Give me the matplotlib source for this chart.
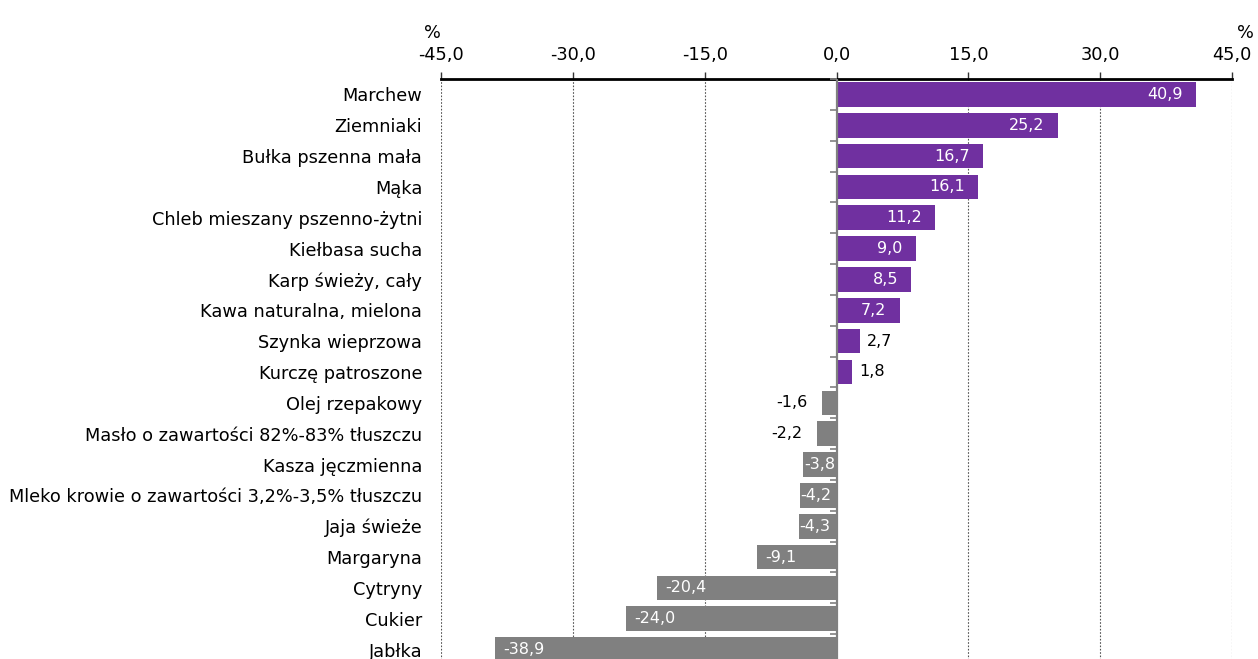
import matplotlib.pyplot as plt

# ── Daten ───────────────────────────────────────────────────────────────────
produkty = [
    "Marchew", "Ziemniaki", "Bułka pszenna mała", "Mąka",
    "Chleb mieszany pszenno-żytni", "Kiełbasa sucha", "Karp świeży, cały",
    "Kawa naturalna, mielona", "Szynka wieprzowa", "Kurczę patroszone",
    "Olej rzepakowy", "Masło o zawartości 82%-83% tłuszczu",
    "Kasza jęczmienna", "Mleko krowie o zawartości 3,2%-3,5% tłuszczu",
    "Jaja świeże", "Margaryna", "Cytryny", "Cukier", "Jabłka",
]
zmiana = [40.9, 25.2, 16.7, 16.1, 11.2, 9.0, 8.5, 7.2, 2.7, 1.8,
          -1.6, -2.2, -3.8, -4.2, -4.3, -9.1, -20.4, -24.0, -38.9]
ticks_x = [-45, -30, -15, 0, 15, 30, 45]

PURPLE = "#7030A0"
GREY = "#808080"

plt.rcParams["font.family"] = ["DejaVu Sans"]

fig = plt.figure(figsize=(12.58, 6.59), dpi=100)
ax = fig.add_axes([441 / 1258, 1 - 665 / 659, (1232 - 441) / 1258, 586 / 659])

pos = list(range(len(produkty)))
colors = [PURPLE if v > 0 else GREY for v in zmiana]
ax.barh(pos, zmiana, height=0.8, color=colors, zorder=3)

ax.set_xlim(-45, 45)
ax.set_ylim(len(produkty) - 0.5, -0.5)

# Wartości na słupkach
for y, v in zip(pos, zmiana):
    txt = f"{v:.1f}".replace(".", ",")
    inside = abs(v) > 3
    if v > 0:
        if inside:
            ax.annotate(txt, (v, y), xytext=(-9.5, 0), textcoords="offset points",
                        ha="right", va="center", color="white", fontsize=11.5, zorder=4)
        else:
            ax.annotate(txt, (v, y), xytext=(5, 0), textcoords="offset points",
                        ha="left", va="center", color="black", fontsize=11.5, zorder=4)
    else:
        if inside:
            off = 6 if v < -6 else 0.5
            ax.annotate(txt, (v, y), xytext=(off, 0), textcoords="offset points",
                        ha="left", va="center", color="white", fontsize=11.5, zorder=4)
        else:
            ax.annotate(txt, (v, y), xytext=(-11, 0), textcoords="offset points",
                        ha="right", va="center", color="black", fontsize=11.5, zorder=4)

# Oś X na górze
ax.xaxis.tick_top()
ax.set_xticks(ticks_x)
ax.set_xticklabels([f"{t:.1f}".replace(".", ",") for t in ticks_x], fontsize=12.8)
ax.tick_params(axis="x", length=5, width=1, color="#333333", pad=6)
for t in ticks_x:
    if t != 0:
        ax.axvline(t, color="#555555", linestyle=(0, (1.5, 1.5)), linewidth=0.8, zorder=1)

# Oś Y: etykiety przy lewej krawędzi
ax.set_yticks(pos)
ax.set_yticklabels(produkty, fontsize=12.8)
ax.tick_params(axis="y", length=0, pad=13.5)

for s in ["left", "right", "bottom"]:
    ax.spines[s].set_visible(False)
ax.spines["top"].set_linewidth(2)
ax.spines["top"].set_color("black")

# Linia zero + małe kreski między kategoriami
ax.axvline(0, color=GREY, linewidth=1.6, zorder=5)
for y in [p - 0.5 for p in pos]:
    ax.plot([-0.7, 0], [y, y], color=GREY, linewidth=1.2, zorder=5,
            solid_capstyle="butt", clip_on=False)

fig.text(432 / 1258, 1 - 33 / 659, "%", ha="center", va="center", fontsize=12.8)
fig.text(1245 / 1258, 1 - 33 / 659, "%", ha="center", va="center", fontsize=12.8)

fig.savefig("out.png", dpi=100)
